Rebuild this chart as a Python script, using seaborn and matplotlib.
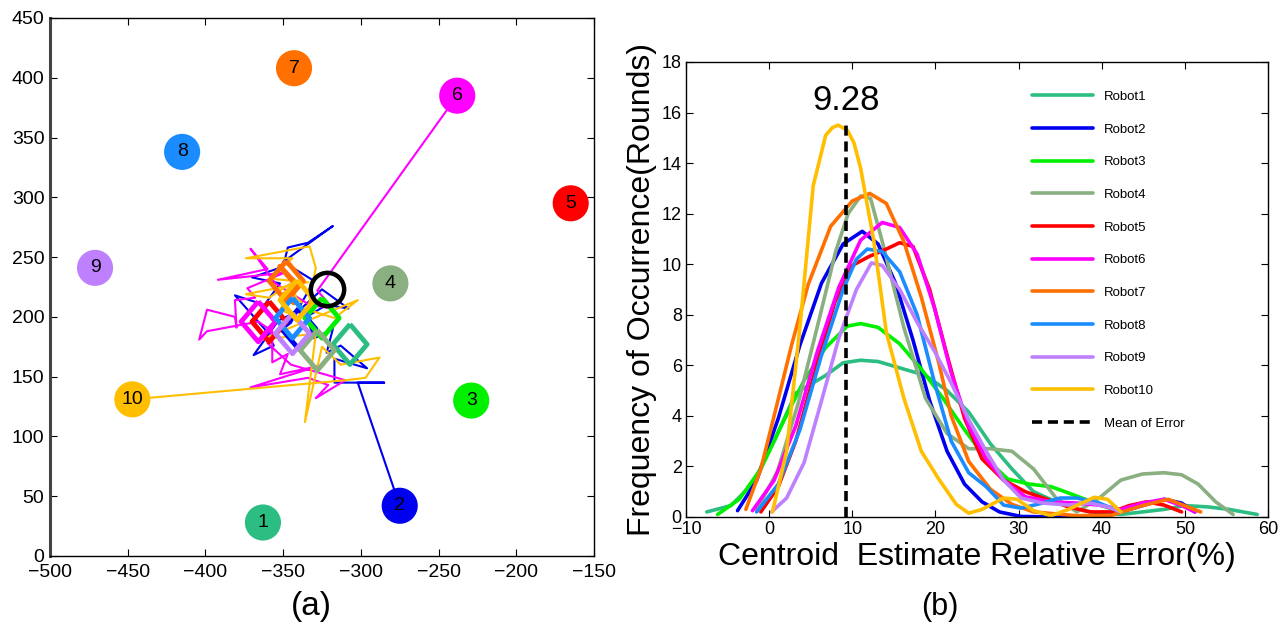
import numpy as np
import pandas as pd
import seaborn as sns
import matplotlib.pyplot as plt

robots = ["Robot%d" % i for i in range(1, 11)]
colors = ["#2bbd82", "#0000f0", "#00f000", "#8aaf80", "#ff0000",
          "#ff00ff", "#ff7000", "#1a8cff", "#bf80ff", "#ffbf00"]

# (a) robot positions
robot_x = [-363, -275, -229, -281, -165, -238, -343, -415, -471, -447]
robot_y = [28, 42, 130, 228, 295, 385, 408, 338, 241, 131]

# final estimates (diamonds)
est_x = [-307, -340, -325, -328, -359, -366, -348, -344, -344, -341]
est_y = [177, 190, 199, 172, 196, 196, 230, 199, 186, 214]

centroid_x = [-322]
centroid_y = [223]

# trajectories
traj2_x = [-275, -302, -285, -317, -317, -296, -313, -322, -318, -330, -335, -322, -308, -325,
           -340, -353, -369, -356, -362, -381, -362, -352, -370, -350, -347, -334, -318, -350,
           -330, -338, -345, -355]
traj2_y = [42, 145, 145, 145, 165, 157, 176, 170, 190, 182, 200, 210, 207, 223,
           205, 197, 168, 176, 190, 218, 210, 228, 233, 242, 258, 262, 276, 246,
           230, 212, 195, 185]
traj6_x = [-238, -328, -318, -333, -355, -371, -360, -392, -349, -373, -368, -381, -380, -381,
           -399, -404, -399, -366, -357, -357, -347, -352, -327, -371, -334, -321, -329, -310,
           -345, -360, -355]
traj6_y = [385, 222, 207, 210, 228, 257, 240, 231, 237, 224, 216, 214, 191, 200,
           206, 181, 188, 196, 188, 162, 169, 152, 159, 141, 149, 143, 132, 147,
           160, 178, 198]
traj10_x = [-447, -310, -297, -288, -313, -325, -336, -329, -364, -302, -317, -334, -329, -333,
            -374, -344, -359, -334, -374, -359, -344, -339, -352, -345, -338]
traj10_y = [131, 147, 149, 166, 160, 175, 112, 186, 181, 214, 199, 206, 241, 259,
            249, 249, 232, 229, 219, 216, 229, 199, 206, 220, 212]
traj7_x = [-352, -345, -340, -350, -343]
traj7_y = [242, 232, 226, 218, 212]

# (b) error distributions
r1_x = [-7.5, -4.6, -2, 0.6, 3.2, 6.8, 8.9, 11, 13.1, 16.2, 18.8, 21.4, 24, 26.6, 29.2, 31.8,
        34.5, 37, 39.7, 42.3, 44.9, 47.5, 50, 52.7, 55.3, 58.7]
r1_y = [0.2, 0.45, 1.3, 3.0, 4.9, 5.6, 6.1, 6.2, 6.15, 5.85, 5.6, 5.0, 4.15, 2.9, 1.9, 1.0,
        0.6, 0.3, 0.15, 0.1, 0.2, 0.3, 0.45, 0.4, 0.3, 0.1]
r2_x = [-3.8, -1.5, 1.1, 3.7, 6.3, 8.9, 11.2, 13.1, 15.2, 17.3, 19.3, 21.4, 23.5, 25.6, 27.7,
        30.3, 34.5, 38, 42.3, 44.9, 47.5, 49.6, 51.2]
r2_y = [0.25, 1.45, 3.9, 6.8, 9.25, 10.8, 11.3, 10.8, 9.25, 7.0, 4.6, 2.6, 1.3, 0.6, 0.2,
        0.02, 0, 0.02, 0.2, 0.45, 0.7, 0.55, 0.2]
r3_x = [-6.2, -3.6, -1, 1.6, 4.2, 6.8, 9.4, 11, 13.1, 15.7, 18.3, 20.9, 23.5, 26.1, 28.7,
        31.3, 33.9, 36, 37.6, 40, 42.3]
r3_y = [0.1, 0.7, 1.9, 3.7, 5.4, 6.7, 7.55, 7.65, 7.5, 6.85, 5.85, 4.7, 3.45, 2.3, 1.5,
        1.3, 1.2, 0.95, 0.75, 0.45, 0.2]
r4_x = [-1.5, 1, 3.5, 6, 8, 9.5, 11, 12.2, 13.6, 16.2, 18.8, 21.4, 24, 26.6, 29.2, 31.8,
        34.5, 37, 39.7, 42.3, 44.9, 47.5, 49.6, 51.6, 53.7, 55.8]
r4_y = [0.3, 1.8, 4.5, 7.8, 10.5, 12, 12.7, 12.6, 10.9, 7.5, 4.7, 3.3, 2.7, 2.7, 2.6, 1.9,
        0.75, 0.2, 0.75, 1.46, 1.7, 1.75, 1.67, 1.3, 0.6, 0.1]
r5_x = [-1, 1.1, 3.2, 5.8, 7.9, 10, 12, 14.1, 15.7, 17.3, 19.3, 21.4, 23.5, 25.6, 28.2, 30.8,
        33.4, 36, 38.6, 41.2, 43.3, 45.4, 47.5, 49.6]
r5_y = [0.2, 1.2, 3.0, 6.1, 8.5, 9.95, 10.3, 10.6, 10.85, 10.7, 9.0, 6.4, 3.9, 2.3, 1.46, 1.0,
        0.7, 0.4, 0.2, 0.2, 0.45, 0.6, 0.47, 0.2]
r6_x = [-2, 0.6, 3.2, 5.8, 8.4, 11, 13.6, 15.7, 17.8, 19.9, 21.9, 24, 26.1, 28.2, 30.8, 33.9,
        37, 39.7, 42.3, 44.9, 47.5, 49.6, 51.2]
r6_y = [0.25, 1.45, 3.6, 6.55, 9.1, 10.95, 11.65, 11.45, 10.4, 8.25, 5.7, 3.6, 2.3, 1.46, 0.8,
        0.6, 0.55, 0.47, 0.3, 0.55, 0.7, 0.45, 0.2]
r7_x = [-2.8, -1, 0.6, 2.7, 4.7, 7.4, 10, 12.1, 14.1, 16.2, 18.3, 20.4, 21.9, 24, 26.6, 29.2,
        31.8, 37, 41.2, 44.9, 48, 51.9]
r7_y = [0.3, 1.9, 4.0, 6.8, 9.2, 11.5, 12.5, 12.8, 12.4, 10.9, 8.7, 6.1, 4.0, 2.2, 1.1, 0.5,
        0.2, 0.05, 0.07, 0.45, 0.7, 0.2]
r8_x = [-1.5, 1.1, 3.7, 6.3, 8.9, 10.5, 11.8, 13.6, 15.7, 17.8, 19.9, 21.9, 24, 26.1, 28.2,
        30.3, 32.9, 35, 37, 39.7, 42.3]
r8_y = [0.2, 1.3, 3.45, 6.4, 9.0, 10.2, 10.6, 10.5, 9.7, 8.0, 5.3, 3.0, 1.75, 1.2, 0.47,
        0.35, 0.55, 0.75, 0.75, 0.55, 0.2]
r9_x = [0.3, 2.1, 4.2, 6.3, 8.4, 10.5, 12.3, 13.6, 15.7, 17.8, 19.9, 21.9, 24, 26.1, 28.2,
        30.3, 32.9, 36, 38.6, 40.7, 42.3]
r9_y = [0.2, 0.75, 2.15, 4.6, 7.1, 9.0, 10.05, 9.95, 9.0, 7.7, 6.55, 5.3, 3.85, 2.6, 1.46,
        0.75, 0.55, 0.47, 0.55, 0.4, 0.2]
r10_x = [0.4, 2.1, 3.7, 5.3, 6.8, 7.6, 8.3, 9.4, 10.2, 11, 12.6, 14.1, 16.2, 18.3, 20.4, 22.5,
         24, 25.6, 28.2, 29.8, 31.8, 33.9, 36, 39.1, 40.7, 42.3]
r10_y = [0.2, 2.6, 7.5, 13.1, 15.1, 15.4, 15.5, 15.3, 14.8, 13.8, 10.9, 7.3, 4.7, 2.6, 1.5, 0.5,
         0.15, 0.3, 0.75, 0.7, 0.25, 0.05, 0.3, 0.78, 0.7, 0.2]
mean_error = 9.28

sns.set_theme(style="white")
plt.rcParams["font.family"] = ["Liberation Sans", "DejaVu Sans"]
plt.rcParams["text.color"] = "black"
plt.rcParams["axes.labelcolor"] = "black"
plt.rcParams["lines.solid_joinstyle"] = "round"

fig = plt.figure(figsize=(12.88, 6.31), dpi=100)
ax1 = fig.add_axes([0.0388, 0.1189, 0.4224, 0.8526])
ax2 = fig.add_axes([0.5326, 0.1807, 0.4519, 0.7211])
pal = dict(zip(robots, colors))

# ---- (a)
traj = pd.concat([
    pd.DataFrame({"x": traj2_x, "y": traj2_y, "robot": "Robot2"}),
    pd.DataFrame({"x": traj6_x, "y": traj6_y, "robot": "Robot6"}),
    pd.DataFrame({"x": traj10_x, "y": traj10_y, "robot": "Robot10"}),
])
sns.lineplot(data=traj, x="x", y="y", hue="robot", palette=pal, units="robot",
             estimator=None, sort=False, lw=1.5, legend=False, ax=ax1, zorder=2)
ax1.plot(traj7_x, traj7_y, color=colors[6], lw=4, zorder=2)

diamond = [(0, 1), (0.85, 0), (0, -1), (-0.85, 0), (0, 1)]
ax1.scatter(est_x, est_y, marker=diamond, s=29 ** 2, facecolors="none",
            edgecolors=colors, linewidths=3.5, zorder=3)
ax1.plot(centroid_x, centroid_y, "o", ms=24, mfc="none", mec="black", mew=3.2, zorder=4)

pos = pd.DataFrame({"x": robot_x, "y": robot_y, "robot": robots})
sns.scatterplot(data=pos, x="x", y="y", hue="robot", palette=pal, s=26 ** 2,
                edgecolor="none", legend=False, ax=ax1, zorder=5)
for i in range(10):
    ax1.text(robot_x[i], robot_y[i], str(i + 1), ha="center", va="center",
             fontsize=14, color="black", zorder=6)

ax1.set_xlim(-500, -150)
ax1.set_ylim(0, 450)
ax1.set_xticks(np.arange(-500, -149, 50))
ax1.set_yticks(np.arange(0, 451, 50))
ax1.set_xlabel("")
ax1.set_ylabel("")

# ---- (b)
xs = [r1_x, r2_x, r3_x, r4_x, r5_x, r6_x, r7_x, r8_x, r9_x, r10_x]
ys = [r1_y, r2_y, r3_y, r4_y, r5_y, r6_y, r7_y, r8_y, r9_y, r10_y]
dist = pd.concat([pd.DataFrame({"err": x, "freq": y, "robot": r})
                  for x, y, r in zip(xs, ys, robots)])
sns.lineplot(data=dist, x="err", y="freq", hue="robot", palette=pal, sort=False,
             estimator=None, lw=2.6, ax=ax2)
ax2.plot([mean_error, mean_error], [0, 15.7], color="black", lw=2.6,
         dashes=(2.8, 1.6), label="Mean of Error")
ax2.text(mean_error, 16.1, "%.2f" % mean_error, ha="center", va="baseline", fontsize=25)

handles, labels = ax2.get_legend_handles_labels()
leg = ax2.legend(handles, labels, loc="upper left", bbox_to_anchor=(0.595, 0.937),
                 frameon=False, fontsize=9.5, handlelength=4.6, labelspacing=1.55,
                 borderpad=0, borderaxespad=0, handletextpad=0.8)
for h in leg.get_lines():
    h.set_linewidth(2.6)

ax2.set_xlim(-10, 60)
ax2.set_ylim(0, 18)
ax2.set_xticks(np.arange(-10, 61, 10))
ax2.set_yticks(np.arange(0, 19, 2))
ax2.set_xlabel("Centroid  Estimate Relative Error(%)", fontsize=23)
ax2.set_ylabel("Frequency of Occurrence(Rounds)", fontsize=23)
ax2.xaxis.set_label_coords(0.5, -0.056)
ax2.yaxis.set_label_coords(-0.05, 0.5)

for ax in (ax1, ax2):
    ax.tick_params(direction="in", bottom=True, left=True, top=True, right=True,
                   length=5, width=0.8, labelsize=14, colors="black", pad=4)
    for s in ax.spines.values():
        s.set_color("black")
        s.set_linewidth(1.0)
ax1.tick_params(axis="x", pad=6)
ax2.tick_params(labelsize=13, pad=3)
ax1.spines["left"].set_linewidth(2.2)
ax1.spines["left"].set_color("#444444")

fig.text(311 / 1288, 1 - 607 / 631, "(a)", ha="center", va="center", fontsize=24)
fig.text(940 / 1288, 1 - 607 / 631, "(b)", ha="center", va="center", fontsize=22)

fig.savefig("out.png", dpi=100)
